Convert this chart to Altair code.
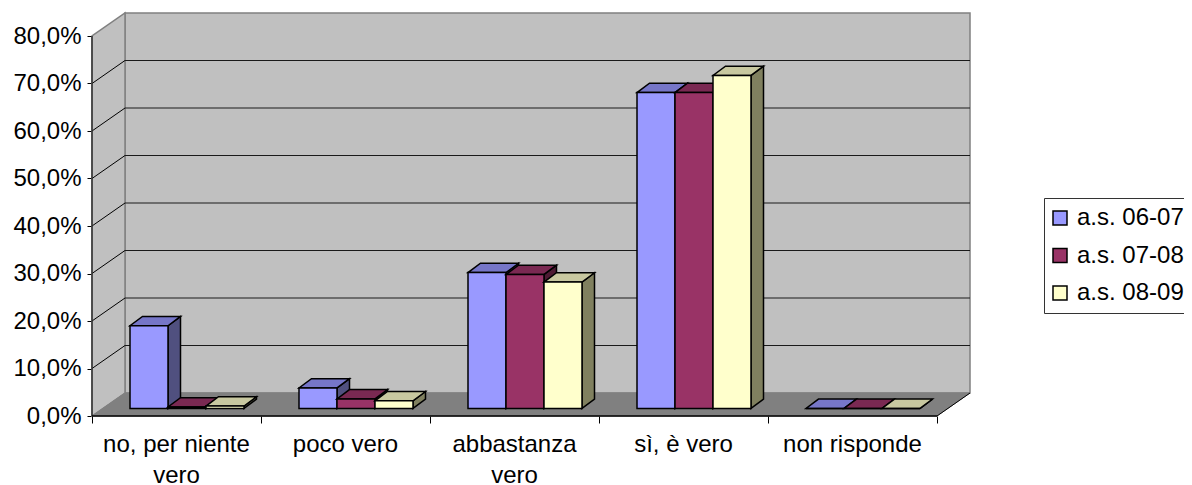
import altair as alt
import pandas as pd

categories = ["no, per niente\nvero", "poco vero", "abbastanza\nvero", "sì, è vero", "non risponde"]
series_names = ["a.s. 06-07", "a.s. 07-08", "a.s. 08-09"]
values_0607 = [17.4, 4.3, 28.6, 66.5, 0.0]
values_0708 = [0.3, 2.0, 28.2, 66.5, 0.0]
values_0809 = [0.5, 1.6, 26.6, 70.1, 0.0]
y_ticks = [0, 10, 20, 30, 40, 50, 60, 70, 80]
front_colors = ["#9999FF", "#993366", "#FFFFCC"]
top_colors = ["#7676C8", "#7A2952", "#C8C8A0"]
side_colors = ["#50507F", "#4D1A33", "#80805F"]

PX_X = 169.0   # px per category
PX_Y = 4.75    # px per percent
WIDTH = 878
HEIGHT = 403
wall_dx = 33 / PX_X
wall_dy = 23 / PX_Y
bar_dx = 12.5 / PX_X
bar_dy = 9.3 / PX_Y
bar_w = 38 / PX_X
bar_start = 38 / PX_X
bar_base = 7.6 / PX_Y

n = len(categories)
x_scale = alt.Scale(domain=[0, WIDTH / PX_X], nice=False, zero=False)
y_scale = alt.Scale(domain=[0, HEIGHT / PX_Y], nice=False, zero=False)
x_axis = alt.Axis(values=list(range(n + 1)), labels=False, domain=False, grid=False,
                  tickSize=7, tickColor="black", tickWidth=1, title=None)
y_axis = alt.Axis(values=y_ticks, domain=False, grid=False, tickSize=5, tickColor="black", tickWidth=1,
                  labelFont="Liberation Sans", labelFontSize=24, labelColor="black", labelPadding=6,
                  labelExpr="replace(format(datum.value,'.1f'),'.',',')+'%'", labelOverlap=False, title=None)


def X(f="x:Q"):
    return alt.X(f, scale=x_scale, axis=x_axis, title=None)


def Y(f="y:Q"):
    return alt.Y(f, scale=y_scale, axis=y_axis, stack=None, title=None)


Y2 = alt.Y2("y2:Q", title=None)
X2 = alt.X2("x2:Q", title=None)


def area(rows, fill, stroke, width=1.0):
    return alt.Chart(pd.DataFrame(rows, columns=["x", "y", "y2"])).mark_area(
        fill=fill, stroke=stroke, strokeWidth=width, opacity=1, interpolate="linear"
    ).encode(x=X(), y=Y(), y2=Y2)


layers = []

# Walls and floor
top = y_ticks[-1]
layers.append(area([[wall_dx, wall_dy, top + wall_dy], [wall_dx + n, wall_dy, top + wall_dy]], "#C0C0C0", "#808080", 1.5))
layers.append(area([[0, 0, top], [wall_dx, wall_dy, top + wall_dy]], "#C0C0C0", "#808080", 1.5))
layers.append(area([[0, 0, 0], [wall_dx, 0, wall_dy], [n, 0, wall_dy], [n + wall_dx, wall_dy, wall_dy]], "#808080", "#808080", 1))

# Gridlines
grid_rows = [{"x": wall_dx, "x2": wall_dx + n, "y": v + wall_dy} for v in y_ticks[1:-1]]
layers.append(alt.Chart(pd.DataFrame(grid_rows)).mark_rule(color="#1a1a1a", strokeWidth=1).encode(
    x=X(), x2=X2, y=Y()))
slant_rows = []
for v in y_ticks[1:-1]:
    slant_rows += [{"x": 0, "y": v, "g": v}, {"x": wall_dx, "y": v + wall_dy, "g": v}]
layers.append(alt.Chart(pd.DataFrame(slant_rows)).mark_line(color="black", strokeWidth=1).encode(
    x=X(), y=Y(), detail="g:N"))

# Axis lines
layers.append(alt.Chart(pd.DataFrame([{"x": 0, "y": 0, "y2": top}])).mark_rule(color="#333333", strokeWidth=1.5).encode(
    x=X(), y=Y(), y2=Y2))
layers.append(alt.Chart(pd.DataFrame([{"x": 0, "x2": n, "y": 0}])).mark_rule(color="black", strokeWidth=1.5).encode(
    x=X(), x2=X2, y=Y()))
layers.append(alt.Chart(pd.DataFrame([{"x": n, "x2": n + wall_dx, "y": 0, "y2": wall_dy}])).mark_rule(color="black", strokeWidth=1).encode(
    x=X(), x2=X2, y=Y(), y2=Y2))

# Bars, painted back to front within each category
color_scale = alt.Scale(domain=series_names, range=front_colors)
all_values = [values_0607, values_0708, values_0809]
for c in range(n):
    for s, vals in enumerate(all_values):
        v = vals[c] + bar_base
        b = bar_base
        xl = c + bar_start + s * bar_w
        xr = xl + bar_w
        layers.append(area([[xr, b, v], [xr + bar_dx, b + bar_dy, v + bar_dy]], side_colors[s], "black", 1.5))
        layers.append(area([[xl, v, v], [xl + bar_dx, v, v + bar_dy], [xr, v, v + bar_dy],
                            [xr + bar_dx, v + bar_dy, v + bar_dy]], top_colors[s], "black", 1.5))
        layers.append(
            alt.Chart(pd.DataFrame([{"x": xl, "x2": xr, "y": b, "y2": v, "series": series_names[s]}]))
            .mark_rect(stroke="black", strokeWidth=1.5)
            .encode(x=X(), x2=X2, y=Y(), y2=Y2,
                    fill=alt.Fill("series:N", scale=color_scale, title=None, legend=alt.Legend(
                        orient="none", legendX=952, legendY=185, symbolType="square", symbolSize=196,
                        symbolStrokeColor="black", symbolStrokeWidth=1.5, symbolOpacity=1,
                        symbolOffset=-4,
                        labelFont="Liberation Sans", labelFontSize=24, labelColor="black",
                        labelOffset=5, rowPadding=13.5, padding=8, strokeColor="#333333",
                        fillColor="white", labelLimit=300)))
        )

# Category labels
cat_df = pd.DataFrame({"x": [i + 0.5 for i in range(n)], "y": [0.0] * n, "label": categories})
layers.append(alt.Chart(cat_df).mark_text(
    font="Liberation Sans", fontSize=24, color="black", baseline="top", dy=17, lineBreak="\n", lineHeight=31
).encode(x=X(), y=Y(), text="label:N"))

chart = alt.layer(*layers).properties(
    width=WIDTH, height=HEIGHT, background="white",
    autosize=alt.AutoSizeParams(type="none"),
    padding={"left": 84, "top": 5, "right": 214, "bottom": 77},
).configure_view(stroke=None)

chart.save("out.html", embed_options={"renderer": "svg", "actions": False})
